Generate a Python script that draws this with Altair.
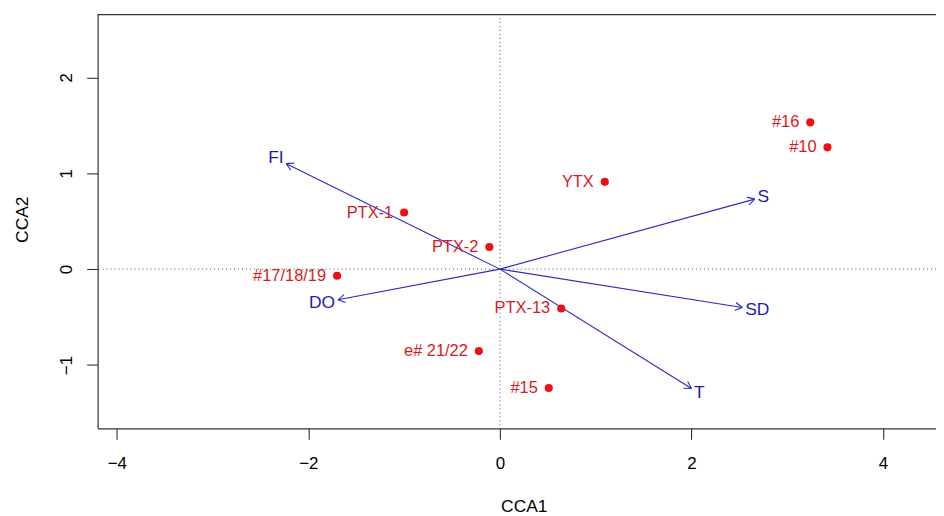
import math
import altair as alt
import pandas as pd

# ---- data ----
site_names = ["#16", "#10", "YTX", "PTX-1", "PTX-2", "#17/18/19", "PTX-13", "e# 21/22", "#15"]
site_x = [3.24, 3.42, 1.095, -1.00, -0.11, -1.70, 0.64, -0.22, 0.51]
site_y = [1.53, 1.27, 0.91, 0.59, 0.23, -0.07, -0.41, -0.855, -1.24]

env_names = ["FI", "S", "SD", "T", "DO"]
env_x = [-2.23, 2.66, 2.53, 2.00, -1.69]
env_y = [1.10, 0.73, -0.40, -1.245, -0.32]

x_ticks = [-4, -2, 0, 2, 4]
y_ticks = [-1, 0, 1, 2]

# ---- layout ----
W, H = 842, 416
XDOM = [-4.2, 4.553]
YDOM = [-1.66, 2.66]
PX = W / (XDOM[1] - XDOM[0])  # pixels per unit
FONT = "Liberation Sans"
RED_PT = "#ec1016"
RED_TX = "#d81a1e"
BLUE_LN = "#2b2bc4"
BLUE_TX = "#1c1cae"
LAB_FS = 17.5

sites = pd.DataFrame({"name": site_names, "x": site_x, "y": site_y})

# arrows from origin, arrow-head wings and label positions derived from the tips
char_w = {"F": 0.611, "I": 0.278, "S": 0.667, "D": 0.722, "T": 0.611, "O": 0.778}
rows, heads, labels = [], [], []
L = 8 / PX
for n, x, y in zip(env_names, env_x, env_y):
    r = math.hypot(x, y)
    ux, uy = x / r, y / r
    rows.append({"name": n, "x0": 0.0, "y0": 0.0, "x1": x, "y1": y})
    for a in (math.radians(30), -math.radians(30)):
        bx = ux * math.cos(a) - uy * math.sin(a)
        by = ux * math.sin(a) + uy * math.cos(a)
        heads.append({"name": n, "x0": x, "y0": y, "x1": x - L * bx, "y1": y - L * by})
    w = sum(char_w[c] for c in n) * LAB_FS
    h = 13.0
    d = min(w / 2 / max(abs(ux), 1e-6), h / 2 / max(abs(uy), 1e-6)) + 3
    labels.append({"name": n, "x": x + ux * d / PX, "y": y + uy * d / PX})

arrows = pd.DataFrame(rows)
arrowheads = pd.DataFrame(heads)
env_labels = pd.DataFrame(labels)

xscale = alt.Scale(domain=XDOM, nice=False, zero=False)
yscale = alt.Scale(domain=YDOM, nice=False, zero=False)

xaxis = alt.Axis(
    values=x_ticks, format="d", title="CCA1", grid=False, tickSize=11, tickColor="#333",
    domainColor="#333", domainWidth=1.2, tickWidth=1.1,
    labelFont=FONT, labelFontSize=17, labelColor="black",
    labelBaseline="alphabetic", labelPadding=29.5, labelAlign="center",
    titleFont=FONT, titleFontSize=17.5, titleFontWeight="normal", titleColor="black",
    titleX=428, titleY=84, titleBaseline="alphabetic", titleAlign="center",
)
yaxis = alt.Axis(
    values=y_ticks, format="d", title="CCA2", grid=False, tickSize=11, tickColor="#333",
    domainColor="#333", domainWidth=1.2, tickWidth=1.1,
    labelFont=FONT, labelFontSize=17, labelColor="black", labelAngle=270,
    labelBaseline="alphabetic", labelAlign="center", labelPadding=15,
    titleFont=FONT, titleFontSize=17.5, titleFontWeight="normal", titleColor="black",
    titleX=-70, titleY=206, titleBaseline="alphabetic", titleAlign="center", titleAngle=270,
)

zero_df = pd.DataFrame({"v": [0.0]})
vline = alt.Chart(zero_df).mark_rule(color="#555", strokeDash=[1, 3], strokeWidth=1).encode(
    x=alt.X("v:Q", scale=xscale, axis=xaxis)
)
hline = alt.Chart(zero_df).mark_rule(color="#555", strokeDash=[1, 3], strokeWidth=1).encode(
    y=alt.Y("v:Q", scale=yscale, axis=yaxis)
)
top_border = alt.Chart(zero_df).mark_rule(color="#333", strokeWidth=1.2).encode(
    x=alt.value(0), x2=alt.value(W), y=alt.value(0.5)
)

arrow_lines = alt.Chart(arrows).mark_rule(color=BLUE_LN, strokeWidth=1.1).encode(
    x=alt.X("x0:Q", scale=xscale), y=alt.Y("y0:Q", scale=yscale), x2="x1:Q", y2="y1:Q"
)
head_lines = alt.Chart(arrowheads).mark_rule(color=BLUE_LN, strokeWidth=1.1).encode(
    x=alt.X("x0:Q", scale=xscale), y=alt.Y("y0:Q", scale=yscale), x2="x1:Q", y2="y1:Q"
)
env_text = alt.Chart(env_labels).mark_text(
    font=FONT, fontSize=LAB_FS, color=BLUE_TX, align="center", baseline="middle"
).encode(x=alt.X("x:Q", scale=xscale), y=alt.Y("y:Q", scale=yscale), text="name:N")

site_pts = alt.Chart(sites).mark_circle(color=RED_PT, opacity=1, size=66).encode(
    x=alt.X("x:Q", scale=xscale), y=alt.Y("y:Q", scale=yscale)
)
site_text = alt.Chart(sites).mark_text(
    font=FONT, fontSize=16.5, color=RED_TX, align="right", baseline="middle", dx=-11
).encode(x=alt.X("x:Q", scale=xscale), y=alt.Y("y:Q", scale=yscale), text="name:N")

chart = alt.layer(
    vline, hline, top_border, arrow_lines, head_lines, site_pts, site_text, env_text
).properties(
    width=W, height=H,
    padding={"left": 90, "top": 5, "right": 0, "bottom": 87},
    autosize=alt.AutoSizeParams(type="none"),
).configure_view(stroke=None)

chart.save("out.html", embed_options={"renderer": "svg", "actions": False})
